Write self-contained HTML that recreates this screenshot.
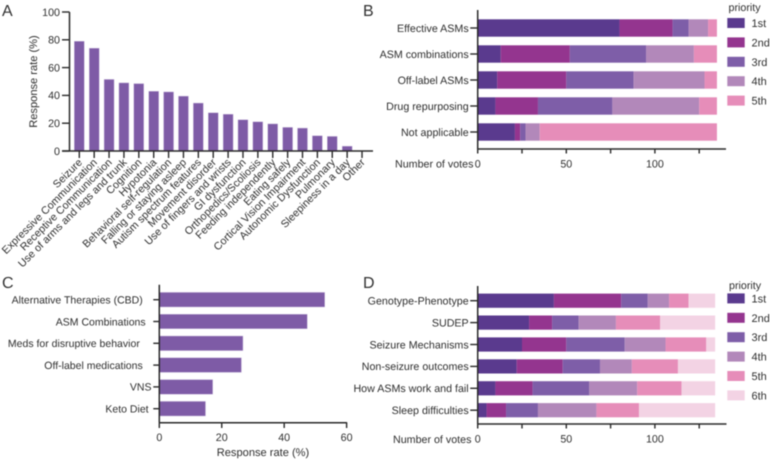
<!DOCTYPE html>
<html>
<head>
<meta charset="utf-8">
<style>
html,body{margin:0;padding:0;background:#fff;width:770px;height:462px;overflow:hidden}
svg{display:block;font-family:"Liberation Sans",sans-serif;fill:#2e2e2e;text-rendering:geometricPrecision}
#root{filter:blur(0.4px)}
text{font-size:10.7px}
.big{font-size:16px;fill:#333}
.title{font-size:11.1px}
.leg{font-size:11px}
</style>
</head>
<body>
<svg id="chart" width="770" height="462" viewBox="0 0 770 462" xmlns="http://www.w3.org/2000/svg">
<g id="root">
<text class="big" x="2" y="16">A</text>
<text class="big" x="363" y="16">B</text>
<text class="big" x="2" y="288">C</text>
<text class="big" x="363" y="288">D</text>
<text class="title" transform="translate(37,81.5) rotate(-90)" text-anchor="middle">Response rate (%)</text>
<text class="title" x="263" y="456" text-anchor="middle">Response rate (%)</text>
<text x="395" y="167.5">Number of votes</text>
<text x="393" y="443">Number of votes</text>
<text x="728.5" y="11">priority</text>
<text x="729" y="289">priority</text>
</g>
</svg>
<script>
const categoriesA = ["Seizure","Expressive Communication","Receptive Communication","Use of arms and legs and trunk","Cognition","Hypotonia","Behavioral self-regulation","Falling or staying asleep","Autism spectrum features","Movement disorder","Use of fingers and wrists","GI dysfunction","Orthopedics/Scoliosis","Feeding independently","Eating safely","Cortical Vision Impairment","Autonomic Dysfunction","Pulmonary","Sleepiness in a day","Other"];
const valuesA = [79,74,51.5,49,48.5,43,42.5,39.5,34.5,27.5,26.5,22.5,21,19.5,17,16.5,11,10.5,3.5,0];
const ticksA = [0,20,40,60,80,100];

const categoriesB = ["Effective ASMs","ASM combinations","Off-label ASMs","Drug repurposing","Not applicable"];
const votesB1st = [80,13,11,10,21];
const votesB2nd = [30,39,39,24,3];
const votesB3rd = [9,43,38,42,3];
const votesB4th = [11,27,40,49,8];
const votesB5th = [5,13,7,10,100];

const categoriesC = ["Alternative Therapies (CBD)\u00A0\u00A0\u00A0","ASM Combinations\u00A0\u00A0","Meds for disruptive behavior\u00A0\u00A0\u00A0\u00A0","Off-label medications\u00A0\u00A0\u00A0","VNS","Keto Diet\u00A0"];
const valuesC = [53,47.4,26.8,26.3,17.1,14.8];
const ticksC = [0,20,40,60];

const categoriesD = ["Genotype-Phenotype","SUDEP","Seizure Mechanisms","Non-seizure outcomes","How ASMs work and fail","Sleep difficulties"];
const votesD1st = [43,29,25,22,10,5];
const votesD2nd = [38,13,25,26,21,11];
const votesD3rd = [15,15,33,21,32,18];
const votesD4th = [12,21,23,18,27,33];
const votesD5th = [11,25,23,26,25,24];
const votesD6th = [15,31,5,21,19,43];

const ticksVotes = [0,25,50,75,100,125];
const tickLabelsVotes = ["0","","50","","100",""];
const priorityLabels = ["1st","2nd","3rd","4th","5th","6th"];
const priorityColors = ["#5a3a8e","#94358f","#7e5ea8","#b288ba","#e68db9","#f3d3e4"];
const barColor = "#7e5ba6";
const inkColor = "#2a2a2a";

const NS = "http://www.w3.org/2000/svg";
const root = document.getElementById("root");

function mk(tag, attrs, txt) {
  const el = document.createElementNS(NS, tag);
  for (const k in attrs) el.setAttribute(k, attrs[k]);
  if (txt !== undefined) el.textContent = txt;
  root.appendChild(el);
  return el;
}
function line(x1, y1, x2, y2, w) {
  return mk("line", {x1: x1, y1: y1, x2: x2, y2: y2, stroke: inkColor, "stroke-width": w || 1.4});
}

/* Panel A */
const aY = v => 151 - v * 1.39;
const aX = i => 79.3 + i * 14.88;
valuesA.forEach((v, i) => {
  if (v <= 0) return;
  const el = mk("rect", {x: aX(i) - 5, y: aY(v), width: 10, height: aY(0) - aY(v), fill: barColor, stroke: "#cfc2e0", "stroke-width": 0.4});
  
  
});
let ax = line(69.5, aY(100), 69.5, 151, 1.5);


ax = line(62, 151, 373, 151, 1.5);


ticksA.forEach(t => {
  line(62, aY(t), 69.5, aY(t));
  const el = mk("text", {x: 60, y: aY(t) + 3.8, "text-anchor": "end"}, String(t));
  
  
});
categoriesA.forEach((c, i) => {
  line(aX(i), 151, aX(i), 158);
  const el = mk("text", {"text-anchor": "end", style: "font-size:10.7px", transform: "translate(" + (aX(i) + 3.5) + ",163) rotate(-45)"}, c);
  
  
});

/* Stacked panels */
function stacked(cats, series, cfg) {
  const sx = v => cfg.x0 + v * cfg.k;
  const sy = i => cfg.y0 + i * cfg.step;
  cats.forEach((c, i) => {
    let acc = 0;
    series.forEach((s, j) => {
      const el = mk("rect", {x: sx(acc), y: sy(i) - cfg.h / 2, width: s[i] * cfg.k, height: cfg.h, fill: priorityColors[j]});
      
      
      acc += s[i];
    });
    line(cfg.x0 - 7.5, sy(i), cfg.x0, sy(i));
    const lab = mk("text", {x: cfg.x0 - 9, y: sy(i) + 3.8, "text-anchor": "end"}, c);
    
    
  });
  line(cfg.x0, cfg.yTop, cfg.x0, cfg.yBot, 1.5);
  line(cfg.x0, cfg.yBot, cfg.xEnd, cfg.yBot, 1.5);
  ticksVotes.forEach((t, i) => {
    line(sx(t), cfg.yBot, sx(t), cfg.yBot + 4.5);
    if (tickLabelsVotes[i]) {
      const el = mk("text", {x: sx(t), y: cfg.yBot + 18.5, "text-anchor": "middle"}, tickLabelsVotes[i]);
      
      
    }
  });
  series.forEach((s, j) => {
    const y = cfg.legY + j * cfg.legStep;
    const sw = mk("rect", {x: 727.3, y: y - 5, width: 17.4, height: 10, fill: priorityColors[j]});
    
    
    const t = mk("text", {class: "leg", x: 751.5, y: y + 4}, priorityLabels[j]);
    
    
  });
}
stacked(categoriesB, [votesB1st, votesB2nd, votesB3rd, votesB4th, votesB5th],
  {x0: 477.7, k: 1.772, y0: 28, step: 26, h: 17.4, yTop: 10, yBot: 149, xEnd: 726, legY: 23, legStep: 19.4});
stacked(categoriesD, [votesD1st, votesD2nd, votesD3rd, votesD4th, votesD5th, votesD6th],
  {x0: 477.7, k: 1.772, y0: 300.7, step: 21.9, h: 14.2, yTop: 286, yBot: 424, xEnd: 726.5, legY: 298.4, legStep: 19.4});

/* Panel C */
const cX = v => 159.3 + v * 3.122;
const cY = i => 299.7 + i * 21.8;
categoriesC.forEach((c, i) => {
  const el = mk("rect", {x: cX(0), y: cY(i) - 7.3, width: cX(valuesC[i]) - cX(0), height: 14.6, fill: barColor, stroke: "#cfc2e0", "stroke-width": 0.4});
  
  
  line(153.3, cY(i), 159.3, cY(i));
  const t = mk("text", {x: 151.5, y: cY(i) + 3.8, "text-anchor": "end", style: "font-size:10.5px"}, c);
  
  
});
line(159.3, 284.7, 159.3, 422.7, 1.5);
line(159.3, 422.7, cX(60) + 0.5, 422.7, 1.5);
ticksC.forEach(t => {
  line(cX(t), 422.7, cX(t), 428);
  const el = mk("text", {x: cX(t), y: 441, "text-anchor": "middle"}, String(t));
  
  
});
</script>
</body>
</html>
